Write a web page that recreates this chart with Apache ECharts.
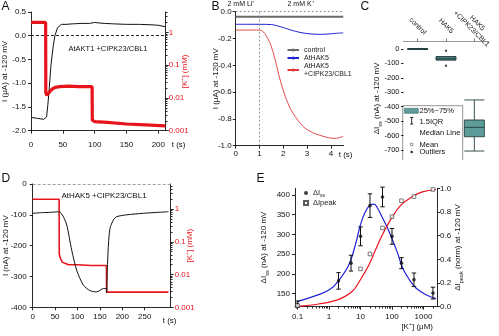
<!DOCTYPE html>
<html>
<head>
<meta charset="utf-8">
<script src="https://cdn.jsdelivr.net/npm/echarts@6/dist/echarts.min.js"></script>
<style>
  html, body { margin: 0; padding: 0; background: #fff; }
  #chart { width: 499px; height: 336px; }
</style>
</head>
<body>
<div id="chart"></div>
<script>
// ---------- Panel A: AtAKT1 + CIPK23/CBL1, current and bath [K+] ----------
const aTime = [0, 10, 20, 23, 24.5, 26.5, 28.2, 31.3, 35, 37.6, 41.7, 48, 55, 65, 80, 92, 100, 106, 115, 130, 150, 170, 190, 200, 211];
const aCurrent = [-1.72, -1.74, -1.76, -1.78, -1.71, -1.45, -1.19, -0.63, -0.21, 0.0, 0.17, 0.24, 0.24, 0.25, 0.26, 0.26, 0.28, 0.27, 0.26, 0.25, 0.24, 0.24, 0.23, 0.22, 0.19];
const aKTime = [0, 23, 23.3, 25, 27, 30, 34, 38, 45, 60, 75, 90, 96, 96.3, 100, 120, 150, 180, 211];
const aK = [2.0, 2.0, 0.014, 0.012, 0.0135, 0.016, 0.019, 0.021, 0.022, 0.023, 0.022, 0.022, 0.022, 0.0021, 0.0019, 0.0018, 0.0016, 0.0015, 0.0014];
const aTimeTicks = [0, 50, 100, 150, 200];
const aCurrentTicks = [0.5, 0, -0.5, -1, -1.5, -2];
const kTicks = [0.001, 0.01, 0.1, 1];

// ---------- Panel B: Li+ -> K+ switch ----------
const bControlTime = [0, 4.52];
const bControl = [-0.037, -0.037];
const bHak5Time = [0, 0.5, 1, 1.5, 1.75, 2, 2.25, 2.5, 2.75, 3, 3.25, 3.5, 3.75, 4, 4.25, 4.52];
const bHak5 = [-0.094, -0.094, -0.094, -0.096, -0.105, -0.118, -0.133, -0.146, -0.156, -0.163, -0.167, -0.169, -0.168, -0.165, -0.161, -0.158];
const bCipkTime = [0, 1, 1.1, 1.23, 1.45, 1.66, 1.87, 2.08, 2.29, 2.57, 2.92, 3.34, 3.9, 4.2, 4.52];
const bCipk = [-0.137, -0.137, -0.142, -0.165, -0.236, -0.36, -0.51, -0.63, -0.72, -0.80, -0.87, -0.91, -0.94, -0.945, -0.93];
const bTimeTicks = [0, 1, 2, 3, 4];
const bCurrentTicks = [0, -0.2, -0.4, -0.6, -0.8, -1];

// ---------- Panel C: steady-state current distributions ----------
const cCategories = ['control', 'HAK5', 'HAK5\n+CIPK23/CBL1'];
const cBoxStats = [            // min, Q1, median, Q3, max
  [-3, -3, 0, 3, 3],
  [-76, -76, -65, -53, -53],
  [-707, -608, -543, -492, -353]
];
const cOutliers = [[1, -12], [1, -116]];
const cTicks = [0, -100, -200, -300, -400, -500, -600, -700];

// ---------- Panel D: AtHAK5 + CIPK23/CBL1, current and bath [K+] ----------
const dTime = [0, 20, 39, 59, 68, 76, 87, 98, 113, 128, 143, 158, 164, 165, 166.5, 169, 172.5, 180, 187.5, 210, 247, 303];
const dCurrent = [-95, -93, -92, -90, -105, -133, -214, -279, -328, -346, -350, -339, -339, -352, -279, -198, -144, -117, -106, -100, -95, -90];
const dKTime = [0, 59, 59.3, 62, 66, 72, 80, 100, 130, 164.6, 165, 200, 250, 303];
const dK = [2.0, 2.0, 0.042, 0.031, 0.024, 0.022, 0.02, 0.02, 0.019, 0.019, 0.0029, 0.0029, 0.0029, 0.0029];
const dTimeTicks = [0, 50, 100, 150, 200, 250];
const dCurrentTicks = [0, -100, -200, -300, -400];

// ---------- Panel E: K+ dependence ----------
const eConc = [0.1, 2, 5, 10, 20, 50, 100, 200, 500, 2000];
const eSteady = [123, 182, 227, 295, 373, 395, 295, 227, 185, 151];
const eSteadyErr = [8, 21, 20, 24, 30, 25, 20, 14, 17, 15];
const ePeakConc = [0.1, 10, 20, 50, 100, 200, 500, 2000];
const ePeak = [0.01, 0.32, 0.445, 0.665, 0.76, 0.895, 0.93, 0.99];
const eSteadyFitConc = [0.1, 0.47, 1.05, 1.95, 4.27, 6.9, 10, 14.5, 21, 27, 34.5, 50, 72, 98, 150, 218, 357, 575, 1200, 2500];
const eSteadyFit = [130, 147, 160, 181, 223, 274, 325, 359, 375, 377, 367, 342, 316, 291, 253, 215, 185, 164, 147, 137];
const ePeakFitConc = [0.1, 0.47, 1.95, 5.5, 10, 18.6, 30, 50, 98, 195, 450, 930, 2500];
const ePeakFit = [0.003, 0.023, 0.06, 0.13, 0.23, 0.355, 0.48, 0.61, 0.75, 0.86, 0.93, 0.97, 0.99];
const eConcTicks = [0.1, 1, 10, 100, 1000];
const eSteadyTicks = [150, 200, 250, 300, 350, 400];
const ePeakTicks = [0, 0.2, 0.4, 0.6, 0.8, 1];

// ---------- styling ----------
const FONT = '"Liberation Sans", Arial, sans-serif';
const INK = '#111';
const RED = '#e8141c';
const BLUE = '#2222d8';
const TEAL = '#5e9c9a';

const zip = (xs, ys) => xs.map((x, i) => [x, ys[i]]);

// minor ticks at 2..9 within each decade of a log axis
function logMinor(lo, hi) {
  const out = [];
  for (let e = Math.floor(Math.log10(lo)); e <= Math.ceil(Math.log10(hi)); e++) {
    for (let m = 2; m <= 9; m++) {
      const v = +(m * Math.pow(10, e)).toPrecision(3);
      if (v >= lo && v <= hi) out.push(v);
    }
  }
  return out;
}

function merge(a, b) {
  const out = Object.assign({}, a);
  for (const k in b) {
    const bv = b[k];
    if (bv && typeof bv === 'object' && !Array.isArray(bv) && out[k] && typeof out[k] === 'object' && !Array.isArray(out[k])) {
      out[k] = merge(out[k], bv);
    } else {
      out[k] = bv;
    }
  }
  return out;
}

const baseAxis = {
  axisLine: { show: true, onZero: false, lineStyle: { color: INK, width: 0.9 } },
  axisTick: { show: true, length: 3, inside: false, lineStyle: { color: INK, width: 0.9 } },
  axisLabel: { fontSize: 8, color: INK, fontFamily: FONT, margin: 4 },
  splitLine: { show: false },
  nameMoveOverlap: false,
  nameTextStyle: { fontSize: 8, color: INK, fontFamily: FONT },
  z: 3
};
function axis(opts) { return merge(baseAxis, opts); }
function ticked(values, extra) {
  return merge({ axisLabel: { customValues: values }, axisTick: { customValues: values } }, extra || {});
}
const fix1 = v => (Math.abs(v) < 1e-9 ? 0 : v).toFixed(1);
const logLabel = v => String(+(+v).toPrecision(3));

const subRich = {
  n: { fontSize: 8, fontFamily: FONT, color: INK },
  s: { fontSize: 5.5, fontFamily: FONT, color: INK, verticalAlign: 'bottom', lineHeight: 13 }
};

const grids = [
  { left: 30.7, top: 12, width: 135, height: 118.7 },     // A
  { left: 235.7, top: 11.7, width: 108, height: 134 },    // B
  { left: 403.5, top: 41, width: 85, height: 114.8 },     // C
  { left: 32.7, top: 184, width: 138, height: 123.3 },    // D
  { left: 295, top: 188.3, width: 142, height: 118.4 }    // E
];

const xAxes = [
  // 0: A time
  axis(ticked(aTimeTicks, {
    type: 'value', gridIndex: 0, min: 0, max: 211.6,
    axisLabel: { margin: 10 },
    name: 't (s)', nameLocation: 'end', nameGap: 6,
    nameTextStyle: { verticalAlign: 'top', padding: [10, 0, 0, 0] }
  })),
  // 1: B time
  axis(ticked(bTimeTicks, {
    type: 'value', gridIndex: 1, min: 0, max: 4.54,
    axisLabel: { margin: 4 },
    name: 't (s)', nameLocation: 'end', nameGap: -5,
    nameTextStyle: { verticalAlign: 'top', padding: [5, 0, 0, 0] }
  })),
  // 2: C categories (top)
  axis({
    type: 'category', gridIndex: 2, position: 'top',
    data: cCategories,
    boundaryGap: true,
    axisLine: { lineStyle: { color: '#888' } },
    axisTick: { alignWithLabel: true, length: 2.5, lineStyle: { color: '#666' } },
    axisLabel: { rotate: 45, fontSize: 7, color: '#222', interval: 0, margin: 15, align: 'center', verticalAlign: 'middle', lineHeight: 8 }
  }),
  // 3: D time
  axis(ticked(dTimeTicks, {
    type: 'value', gridIndex: 3, min: 0, max: 308,
    axisLabel: { margin: 5 },
    name: 't (s)', nameLocation: 'end', nameGap: -8,
    nameTextStyle: { verticalAlign: 'top', padding: [9, 0, 0, 0] }
  })),
  // 4: E concentration (log)
  axis(ticked(eConcTicks, {
    type: 'log', logBase: 10, gridIndex: 4, min: 0.083, max: 2690,
    axisLabel: { margin: 6, formatter: logLabel },
    name: '[K\u207A] (\u03BCM)', nameLocation: 'end', nameGap: -4,
    nameTextStyle: { align: 'right', verticalAlign: 'top', padding: [16, 0, 0, 0] }
  })),
  // 5: E concentration minor ticks
  axis({
    type: 'log', logBase: 10, gridIndex: 4, position: 'bottom', min: 0.083, max: 2690,
    axisLine: { show: false }, axisLabel: { show: false },
    axisTick: { length: 1.8, customValues: logMinor(0.083, 2690) }
  })
];

const yAxes = [
  // 0: A current
  axis(ticked(aCurrentTicks, {
    type: 'value', gridIndex: 0, min: -2, max: 0.5,
    axisLabel: { margin: 5, formatter: fix1 },
    name: 'I (\u03BCA) at -120 mV', nameLocation: 'middle', nameGap: 22
  })),
  // 1: A [K+] (log)
  axis(ticked(kTicks, {
    type: 'log', logBase: 10, gridIndex: 0, position: 'right', min: 0.001, max: 4.17,
    axisLabel: { margin: 3, color: RED, formatter: logLabel },
    name: '[K\u207A] (mM)', nameLocation: 'middle', nameGap: 15,
    nameTextStyle: { color: RED }
  })),
  // 2: A [K+] minor ticks
  axis({
    type: 'log', logBase: 10, gridIndex: 0, position: 'right', min: 0.001, max: 4.17,
    axisLine: { show: false }, axisLabel: { show: false },
    axisTick: { length: 1.8, customValues: logMinor(0.001, 4.17) }
  }),
  // 3: B current
  axis(ticked(bCurrentTicks, {
    type: 'value', gridIndex: 1, min: -1, max: 0,
    axisLabel: { margin: 4, formatter: fix1 },
    name: 'I (\u03BCA) at -120 mV', nameLocation: 'middle', nameGap: 15.5
  })),
  // 4: C steady-state current
  axis(ticked(cTicks, {
    type: 'value', gridIndex: 2, min: -740, max: 55.4,
    axisLine: { show: false },
    axisTick: { length: 2.5 },
    axisLabel: { margin: 4, fontSize: 7.5 },
    name: '{n|\u0394I}{s|ss}{n| (nA) at -120 mV}', nameLocation: 'middle', nameGap: 20,
    nameTextStyle: { rich: subRich }
  })),
  // 5: D current
  axis(ticked(dCurrentTicks, {
    type: 'value', gridIndex: 3, min: -400, max: 0,
    axisLabel: { margin: 6 },
    name: 'I (nA) at -120 mV', nameLocation: 'middle', nameGap: 23
  })),
  // 6: D [K+] (log)
  axis(ticked(kTicks, {
    type: 'log', logBase: 10, gridIndex: 3, position: 'right', min: 0.001, max: 5.85,
    axisLabel: { margin: 4, color: RED, formatter: logLabel },
    name: '[K\u207A] (mM)', nameLocation: 'middle', nameGap: 15.5,
    nameTextStyle: { color: RED }
  })),
  // 7: D [K+] minor ticks
  axis({
    type: 'log', logBase: 10, gridIndex: 3, position: 'right', min: 0.001, max: 5.85,
    axisLine: { show: false }, axisLabel: { show: false },
    axisTick: { length: 1.8, customValues: logMinor(0.001, 5.85) }
  }),
  // 8: E steady-state amplitude
  axis(ticked(eSteadyTicks, {
    type: 'value', gridIndex: 4, min: 116.5, max: 417,
    axisLabel: { margin: 5 },
    name: '{n|\u0394I}{s|ss}{n| (nA) at -120 mV}', nameLocation: 'middle', nameGap: 25,
    nameTextStyle: { rich: subRich }
  })),
  // 9: E normalised peak
  axis(ticked(ePeakTicks, {
    type: 'value', gridIndex: 4, position: 'right', min: 0, max: 1,
    axisLabel: { margin: 3, formatter: fix1 },
    name: '{n|\u0394I}{s|peak}{n| (norm) at -120 mV}', nameLocation: 'middle', nameGap: 14,
    nameTextStyle: { rich: subRich }
  }))
];

const noMark = { symbol: 'none', silent: true, animation: false, label: { show: false } };

const series = [
  // ----- A -----
  {
    type: 'line', name: 'A current', xAxisIndex: 0, yAxisIndex: 0,
    data: zip(aTime, aCurrent), showSymbol: false, symbol: 'none',
    lineStyle: { color: INK, width: 1 }, z: 4,
    markLine: merge(noMark, { data: [{ yAxis: 0 }], lineStyle: { color: INK, type: [3, 2], width: 0.9 } })
  },
  {
    type: 'line', name: 'A K', xAxisIndex: 0, yAxisIndex: 1,
    data: zip(aKTime, aK), showSymbol: false, symbol: 'none',
    lineStyle: { color: RED, width: 3.2 }, z: 5
  },
  // ----- B -----
  {
    type: 'line', name: 'control', xAxisIndex: 1, yAxisIndex: 3,
    data: zip(bControlTime, bControl), showSymbol: false, symbol: 'none',
    lineStyle: { color: '#6a6a6a', width: 2 }, itemStyle: { color: '#6a6a6a' },
    markLine: merge(noMark, {
      data: [{ xAxis: 1 }, { yAxis: 0 }],
      lineStyle: { color: '#777', type: [2, 2], width: 0.8 }
    })
  },
  {
    type: 'line', name: 'AtHAK5', xAxisIndex: 1, yAxisIndex: 3,
    data: zip(bHak5Time, bHak5), showSymbol: false, symbol: 'none', smooth: 0.3,
    lineStyle: { color: BLUE, width: 1 }, itemStyle: { color: BLUE }
  },
  {
    type: 'line', name: 'AtHAK5\n+CIPK23/CBL1', xAxisIndex: 1, yAxisIndex: 3,
    data: zip(bCipkTime, bCipk), showSymbol: false, symbol: 'none', smooth: 0.3,
    lineStyle: { color: '#e03838', width: 0.9 }, itemStyle: { color: '#e03838' }
  },
  // ----- C -----
  {
    type: 'boxplot', name: 'box', xAxisIndex: 2, yAxisIndex: 4,
    data: cBoxStats, boxWidth: [20, 20],
    itemStyle: { color: TEAL, borderColor: '#26403f', borderWidth: 0.9 }
  },
  {
    type: 'scatter', name: 'outliers', xAxisIndex: 2, yAxisIndex: 4,
    data: cOutliers, symbol: 'circle', symbolSize: 2.4,
    itemStyle: { color: '#222' }
  },
  // ----- D -----
  {
    type: 'line', name: 'D K', xAxisIndex: 3, yAxisIndex: 6,
    data: zip(dKTime, dK), showSymbol: false, symbol: 'none',
    lineStyle: { color: RED, width: 1.6 }, z: 4
  },
  {
    type: 'line', name: 'D current', xAxisIndex: 3, yAxisIndex: 5,
    data: zip(dTime, dCurrent), showSymbol: false, symbol: 'none', smooth: 0.25,
    lineStyle: { color: INK, width: 1 }, z: 5,
    markLine: merge(noMark, { data: [{ yAxis: 0 }], lineStyle: { color: '#888', type: [3, 2], width: 0.8 } })
  },
  // ----- E -----
  {
    type: 'line', name: 'steady fit', xAxisIndex: 4, yAxisIndex: 8,
    data: zip(eSteadyFitConc, eSteadyFit), showSymbol: false, symbol: 'none', smooth: 0.4,
    lineStyle: { color: BLUE, width: 1.2 }
  },
  {
    type: 'line', name: 'peak fit', xAxisIndex: 4, yAxisIndex: 9,
    data: zip(ePeakFitConc, ePeakFit), showSymbol: false, symbol: 'none', smooth: 0.4,
    lineStyle: { color: RED, width: 1.2 }
  },
  {
    type: 'custom', name: 'steady err', xAxisIndex: 4, yAxisIndex: 8,
    data: eConc.map((c, i) => [c, eSteady[i] - eSteadyErr[i], eSteady[i] + eSteadyErr[i]]),
    encode: { x: 0, y: [1, 2] },
    renderItem(params, api) {
      const x = api.value(0);
      const lo = api.coord([x, api.value(1)]);
      const hi = api.coord([x, api.value(2)]);
      const w = 2.2;
      const st = { stroke: INK, lineWidth: 1 };
      return {
        type: 'group', children: [
          { type: 'line', shape: { x1: lo[0], y1: lo[1], x2: hi[0], y2: hi[1] }, style: st },
          { type: 'line', shape: { x1: lo[0] - w, y1: lo[1], x2: lo[0] + w, y2: lo[1] }, style: st },
          { type: 'line', shape: { x1: hi[0] - w, y1: hi[1], x2: hi[0] + w, y2: hi[1] }, style: st }
        ]
      };
    },
    z: 4
  },
  {
    type: 'scatter', name: '\u0394Iss', xAxisIndex: 4, yAxisIndex: 8,
    data: zip(eConc, eSteady), symbol: 'circle', symbolSize: 3.6,
    itemStyle: { color: INK }, z: 5
  },
  {
    type: 'scatter', name: '\u0394Ipeak', xAxisIndex: 4, yAxisIndex: 9,
    data: zip(ePeakConc, ePeak), symbol: 'rect', symbolSize: 3.6,
    itemStyle: { color: '#fff', borderColor: '#333', borderWidth: 0.8 }, z: 5
  }
];

const legendText = { fontSize: 7, color: '#222', fontFamily: FONT, lineHeight: 8 };

const legends = [
  {
    data: ['control', 'AtHAK5', 'AtHAK5\n+CIPK23/CBL1'],
    left: 286.5, top: 46, orient: 'vertical',
    itemWidth: 11.5, itemHeight: 4, itemGap: 0, padding: 0,
    textStyle: legendText, selectedMode: false
  },
  {
    data: ['\u0394Iss', '\u0394Ipeak'],
    left: 303, top: 189, orient: 'vertical',
    itemWidth: 4, itemHeight: 4, itemGap: 0.5, padding: 0,
    selectedMode: false,
    formatter: name => name === '\u0394Iss' ? '{n|\u0394I}{s|ss}' : '{n|\u0394Ipeak}',
    textStyle: {
      fontSize: 7.5, color: '#222', fontFamily: FONT,
      rich: {
        n: { fontSize: 7.5, fontFamily: FONT, color: '#222' },
        s: { fontSize: 5, fontFamily: FONT, color: '#222', verticalAlign: 'bottom', lineHeight: 11 }
      }
    }
  }
];

function txt(x, y, s, size, extra) {
  return {
    type: 'text', x: x, y: y, silent: true,
    style: Object.assign({ text: s, fontSize: size, fontFamily: FONT, fill: INK, textVerticalAlign: 'middle' }, (extra || {}))
  };
}

const legendTextX = 419.5;
const graphics = [
  // panel letters
  txt(1.5, 6.5, 'A', 12), txt(211.5, 6.5, 'B', 12), txt(360.5, 6.5, 'C', 12),
  txt(1.5, 178.5, 'D', 12), txt(256.5, 178.5, 'E', 12),
  // annotations
  txt(108, 48.5, 'AtAKT1 +CIPK23/CBL1', 7.5, { textAlign: 'center' }),
  txt(104, 195.5, 'AtHAK5 +CIPK23/CBL1', 8, { textAlign: 'center' }),
  txt(227.5, 4.5, '2 mM Li\u207A', 7),
  txt(287.5, 4.5, '2 mM K\u207A', 7),
  // C box legend
  {
    type: 'polyline', silent: true,
    shape: { points: [[402.7, 160], [402.7, 105.7], [462.7, 105.7], [462.7, 160]] },
    style: { stroke: '#777', lineWidth: 0.8, fill: null }
  },
  { type: 'rect', silent: true, shape: { x: 404.3, y: 108.3, width: 14, height: 5 }, style: { fill: TEAL, stroke: '#3d6a69', lineWidth: 0.6 } },
  txt(legendTextX, 111, '25%~75%', 7.5),
  { type: 'line', silent: true, shape: { x1: 411.7, y1: 117.5, x2: 411.7, y2: 124 }, style: { stroke: INK, lineWidth: 0.9 } },
  { type: 'line', silent: true, shape: { x1: 410.2, y1: 117.5, x2: 413.2, y2: 117.5 }, style: { stroke: INK, lineWidth: 0.9 } },
  { type: 'line', silent: true, shape: { x1: 410.2, y1: 124, x2: 413.2, y2: 124 }, style: { stroke: INK, lineWidth: 0.9 } },
  txt(legendTextX, 121.5, '1.5IQR', 7.5),
  txt(legendTextX, 133, 'Median Line', 7.5),
  { type: 'rect', silent: true, shape: { x: 410.5, y: 143.2, width: 2.4, height: 2.4 }, style: { fill: '#fff', stroke: '#555', lineWidth: 0.6 } },
  txt(legendTextX, 144.5, 'Mean', 7.5),
  { type: 'circle', silent: true, shape: { cx: 411.7, cy: 152, r: 1.2 }, style: { fill: '#222' } },
  txt(legendTextX, 152, 'Outliers', 7.5)
];

const chart = echarts.init(document.getElementById('chart'), null, { renderer: 'canvas', width: 499, height: 336 });
chart.setOption({
  animation: false,
  backgroundColor: '#fff',
  textStyle: { fontFamily: FONT },
  grid: grids,
  xAxis: xAxes,
  yAxis: yAxes,
  legend: legends,
  series: series,
  graphic: graphics
});
</script>
</body>
</html>
